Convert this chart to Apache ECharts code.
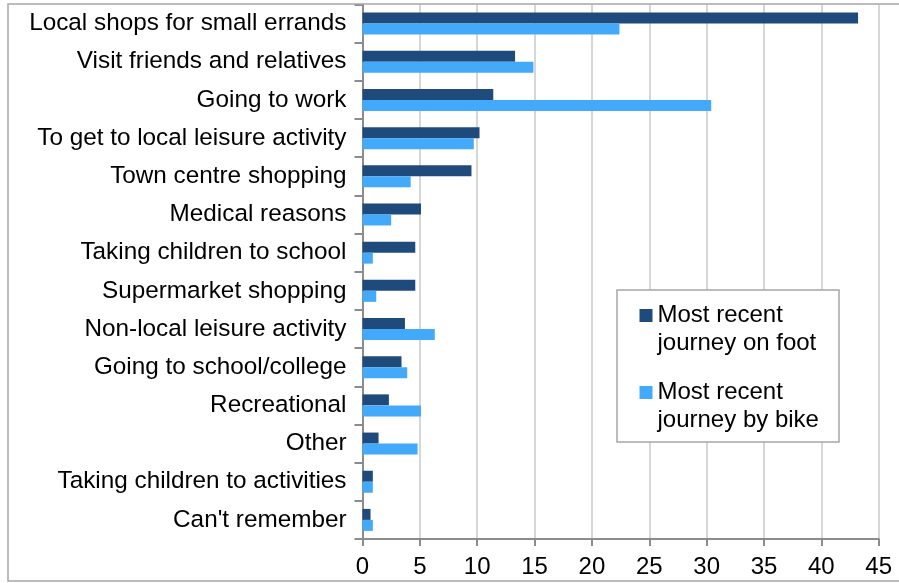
<!DOCTYPE html>
<html>
<head>
<meta charset="utf-8">
<script src="https://cdn.jsdelivr.net/npm/echarts@6/dist/echarts.min.js"></script>
<style>
  html, body { margin: 0; padding: 0; background: #fff; }
  #chart { width: 899px; height: 583px; }
</style>
</head>
<body>
<div id="chart"></div>
<script>
// purposes, top to bottom
const categories = [
  'Local shops for small errands',
  'Visit friends and relatives',
  'Going to work',
  'To get to local leisure activity',
  'Town centre shopping',
  'Medical reasons',
  'Taking children to school',
  'Supermarket shopping',
  'Non-local leisure activity',
  'Going to school/college',
  'Recreational',
  'Other',
  'Taking children to activities',
  "Can't remember"
];
const footValues = [43.2, 13.3, 11.4, 10.2, 9.5, 5.1, 4.6, 4.6, 3.7, 3.4, 2.3, 1.4, 0.9, 0.7];
const bikeValues = [22.4, 14.9, 30.4, 9.7, 4.2, 2.5, 0.9, 1.2, 6.3, 3.9, 5.1, 4.8, 0.9, 0.9];
const seriesNames = ['Most recent journey on foot', 'Most recent journey by bike'];
const xMin = 0, xMax = 45, xStep = 5;

const font = 'Liberation Sans, Arial, sans-serif';
const chart = echarts.init(document.getElementById('chart'));

chart.setOption({
  animation: false,
  textStyle: { fontFamily: font },
  grid: { left: 362.5, right: 20.3, top: 4.5, bottom: 44 },
  xAxis: {
    type: 'value',
    min: xMin,
    max: xMax,
    interval: xStep,
    axisLine: { show: true, lineStyle: { color: '#8c8c8c', width: 2 } },
    axisTick: { show: true, length: 7, lineStyle: { color: '#8c8c8c', width: 2 } },
    axisLabel: { color: '#000', fontSize: 24, margin: 16, fontFamily: font },
    splitLine: { show: true, lineStyle: { color: '#d6d6d6', width: 2 } }
  },
  yAxis: {
    type: 'category',
    inverse: true,
    data: categories,
    axisLine: { show: true, lineStyle: { color: '#8c8c8c', width: 2 } },
    axisTick: { show: true, length: 8, lineStyle: { color: '#8c8c8c', width: 2 } },
    axisLabel: { color: '#000', fontSize: 24.3, margin: 16, fontFamily: font },
    splitLine: { show: false }
  },
  legend: {
    data: seriesNames,
    orient: 'vertical',
    left: 639.5,
    top: 273.5,
    padding: 0,
    itemWidth: 13,
    itemHeight: 13,
    itemGap: -7,
    icon: 'rect',
    // blank first line so the marker sits beside the first visible line
    formatter: name => ' \n' + name.replace('recent ', 'recent\n'),
    textStyle: { color: '#000', fontSize: 24, lineHeight: 28, fontFamily: font }
  },
  graphic: [
    {
      type: 'rect',
      z: 3,
      shape: { x: 617, y: 290, width: 222, height: 152 },
      style: { fill: '#fff', stroke: '#a6a6a6', lineWidth: 1.5 }
    },
    {
      type: 'rect',
      z: 10,
      shape: { x: 8, y: 4, width: 900, height: 577 },
      style: { fill: 'none', stroke: '#a6a6a6', lineWidth: 1.5 }
    }
  ],
  series: [
    {
      name: seriesNames[0],
      type: 'bar',
      data: footValues,
      barWidth: 11,
      barGap: '0%',
      itemStyle: { color: '#1f4a7c' }
    },
    {
      name: seriesNames[1],
      type: 'bar',
      data: bikeValues,
      barWidth: 11,
      barGap: '0%',
      itemStyle: { color: '#43a9fa' }
    }
  ]
});
</script>
</body>
</html>
